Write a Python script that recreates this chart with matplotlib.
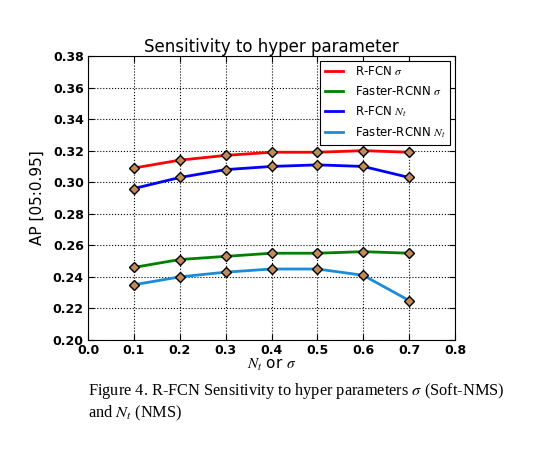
import matplotlib
matplotlib.use("Agg")
import matplotlib.pyplot as plt

x_vals = [0.1, 0.2, 0.3, 0.4, 0.5, 0.6, 0.7]
rfcn_sigma = [0.309, 0.314, 0.317, 0.319, 0.319, 0.320, 0.319]
faster_sigma = [0.246, 0.251, 0.253, 0.255, 0.255, 0.256, 0.255]
rfcn_nt = [0.296, 0.303, 0.308, 0.310, 0.311, 0.310, 0.303]
faster_nt = [0.235, 0.240, 0.243, 0.245, 0.245, 0.241, 0.225]

labels = [r"R-FCN $\sigma$", r"Faster-RCNN $\sigma$", r"R-FCN $N_t$", r"Faster-RCNN $N_t$"]
colors = ["red", "green", "blue", "#1a8cd8"]
series = [rfcn_sigma, faster_sigma, rfcn_nt, faster_nt]

plt.rcParams["mathtext.fontset"] = "stix"

fig = plt.figure(figsize=(5.33, 4.63), dpi=100)
ax = fig.add_axes([88 / 533, 1 - 340 / 463, (455 - 88) / 533, (340 - 56) / 463])

handles = []
for ys, c, lab in zip(series, colors, labels):
    ax.plot(x_vals, ys, color=c, linewidth=2, zorder=2)
    ax.plot(x_vals, ys, linestyle="none", marker="D", markersize=5,
            markerfacecolor="#c08a5a", markeredgecolor="black", markeredgewidth=1, zorder=3)
    h, = ax.plot([], [], color=c, linewidth=2, label=lab)
    handles.append(h)

ax.set_xlim(0.0, 0.8)
ax.set_ylim(0.20, 0.38)
ax.set_xticks([0.0, 0.1, 0.2, 0.3, 0.4, 0.5, 0.6, 0.7, 0.8])
ax.set_yticks([0.20, 0.22, 0.24, 0.26, 0.28, 0.30, 0.32, 0.34, 0.36, 0.38])
ax.set_xticklabels(["%.1f" % v for v in ax.get_xticks()], fontweight="bold", fontsize=9)
ax.set_yticklabels(["%.2f" % v for v in ax.get_yticks()], fontweight="bold", fontsize=9)
ax.tick_params(direction="in", length=4, top=True, right=True)
ax.tick_params(axis="x", pad=3)
ax.tick_params(axis="y", pad=3)
ax.grid(True, color="black", linestyle=":", linewidth=0.8)
ax.set_axisbelow(True)

ax.set_title("Sensitivity to hyper parameter", fontsize=12, pad=3)
ax.set_ylabel("AP [05:0.95]", fontsize=11, labelpad=6)
ax.set_xlabel(r"$N_t$ or $\sigma$", fontsize=11, labelpad=0)

leg = ax.legend(handles=handles, loc="upper right", fontsize=8.5, fancybox=False,
                framealpha=1, edgecolor="black", borderaxespad=0.4, handlelength=1.5,
                handletextpad=1.0, labelspacing=0.55)
leg.get_frame().set_linewidth(0.8)

fig.text(88 / 533, 1 - 391 / 463, r"Figure 4. R-FCN Sensitivity to hyper parameters $\sigma$ (Soft-NMS)",
         family="Liberation Serif", fontsize=11.8, va="center")
fig.text(88 / 533, 1 - 413 / 463, r"and $N_t$ (NMS)",
         family="Liberation Serif", fontsize=11.8, va="center")

fig.savefig("out.png", dpi=100)
